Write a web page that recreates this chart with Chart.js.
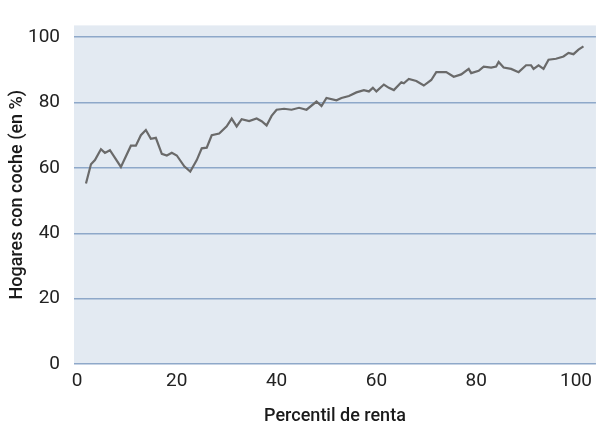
<!DOCTYPE html>
<html>
<head>
<meta charset="utf-8">
<script src="https://cdn.jsdelivr.net/npm/chart.js@4"></script>
<style>
html,body{margin:0;padding:0;background:#fff;}
#wrap{width:598px;height:427px;position:relative;}
</style>
</head>
<body>
<div id="wrap"><canvas id="c" width="598" height="427"></canvas></div>
<script>
// Percentile positions (x)
const percentiles = [1.8,2.8,3.6,4.8,5.6,6.6,8.8,10.8,11.8,12.8,13.8,14.8,15.8,17,18,19,20,21.5,22.7,24,25,26,27,28.5,30,31,32,33,34.5,36,37,38,39,40,41.5,43,44.5,46,48,49,50,52,53,54.5,56,57.5,58.5,59.3,60,61.5,62.5,63.5,65,65.5,66.5,68,69.5,71,72,73,74,75.5,77,78.5,79,80.5,81.5,83,84,84.5,85.5,87,88.5,90,91,91.5,92.5,93.5,94.5,96,97.5,98.5,99.5,100.5,101.5];
// Households with a car (%)
const hogaresConCoche = [55.2,61.1,62.4,65.7,64.6,65.4,60.3,66.8,66.8,70,71.6,68.9,69.2,64.3,63.8,64.6,63.8,60.5,58.9,62.4,66,66.2,70,70.5,72.7,75.1,72.7,74.9,74.3,75.1,74.3,73,75.9,77.8,78.1,77.8,78.4,77.8,80.3,78.9,81.4,80.7,81.4,82,83.1,83.8,83.4,84.5,83.4,85.5,84.5,83.8,86.2,85.9,87.2,86.6,85.2,86.9,89.3,89.3,89.3,87.9,88.6,90.3,89,89.7,91,90.7,91,92.4,90.7,90.3,89.3,91.4,91.4,90.3,91.4,90.3,93.1,93.4,94.1,95.2,94.8,96.2,97.2];
const xTicks = [0,20,40,60,80,100];
const yTicks = [0,20,40,60,80,100];

const points = percentiles.map((p,i)=>({x:p,y:hogaresConCoche[i]}));

const bgPlugin = {
  id:'plotBg',
  beforeDraw(chart){
    const {ctx, chartArea:a} = chart;
    ctx.save();
    ctx.fillStyle = '#e3eaf2';
    ctx.fillRect(a.left, a.top, a.right-a.left, a.bottom-a.top);
    ctx.restore();
  }
};

new Chart(document.getElementById('c'), {
  type:'line',
  data:{datasets:[{
    data:points,
    borderColor:'#6a6a6a',
    borderWidth:2.2,
    pointRadius:0,
    tension:0,
    fill:false
  }]},
  options:{
    responsive:false,
    animation:false,
    devicePixelRatio:1,
    layout:{padding:{top:15,right:0,left:0,bottom:0}},
    plugins:{legend:{display:false},tooltip:{enabled:false}},
    scales:{
      x:{
        type:'linear',
        min:-0.6, max:104,
        border:{display:false},
        grid:{display:false, drawTicks:false},
        afterBuildTicks(s){ s.ticks = xTicks.map(v=>({value:v})); },
        afterFit(s){ s.height = 63; },
        ticks:{color:'#222', padding:6, maxRotation:0, autoSkip:false, font:{family:'Roboto', size:19}},
        title:{display:true, text:'Percentil de renta', color:'#1a1a1a', font:{family:'Roboto', size:18, weight:'500'}, padding:{top:0,bottom:0}}
      },
      y:{
        min:0, max:103.6,
        border:{display:false},
        grid:{color:'#8ea8c9', lineWidth:1.5, drawTicks:false},
        afterBuildTicks(s){ s.ticks = yTicks.map(v=>({value:v})); },
        afterFit(s){ s.width = 74; },
        ticks:{color:'#222', padding:14, autoSkip:false, font:{family:'Roboto', size:19}},
        title:{display:true, text:'Hogares con coche (en %)', color:'#1a1a1a', font:{family:'Roboto', size:18, weight:'500'}, padding:{top:7,bottom:0}}
      }
    }
  },
  plugins:[bgPlugin]
});
</script>
</body>
</html>
